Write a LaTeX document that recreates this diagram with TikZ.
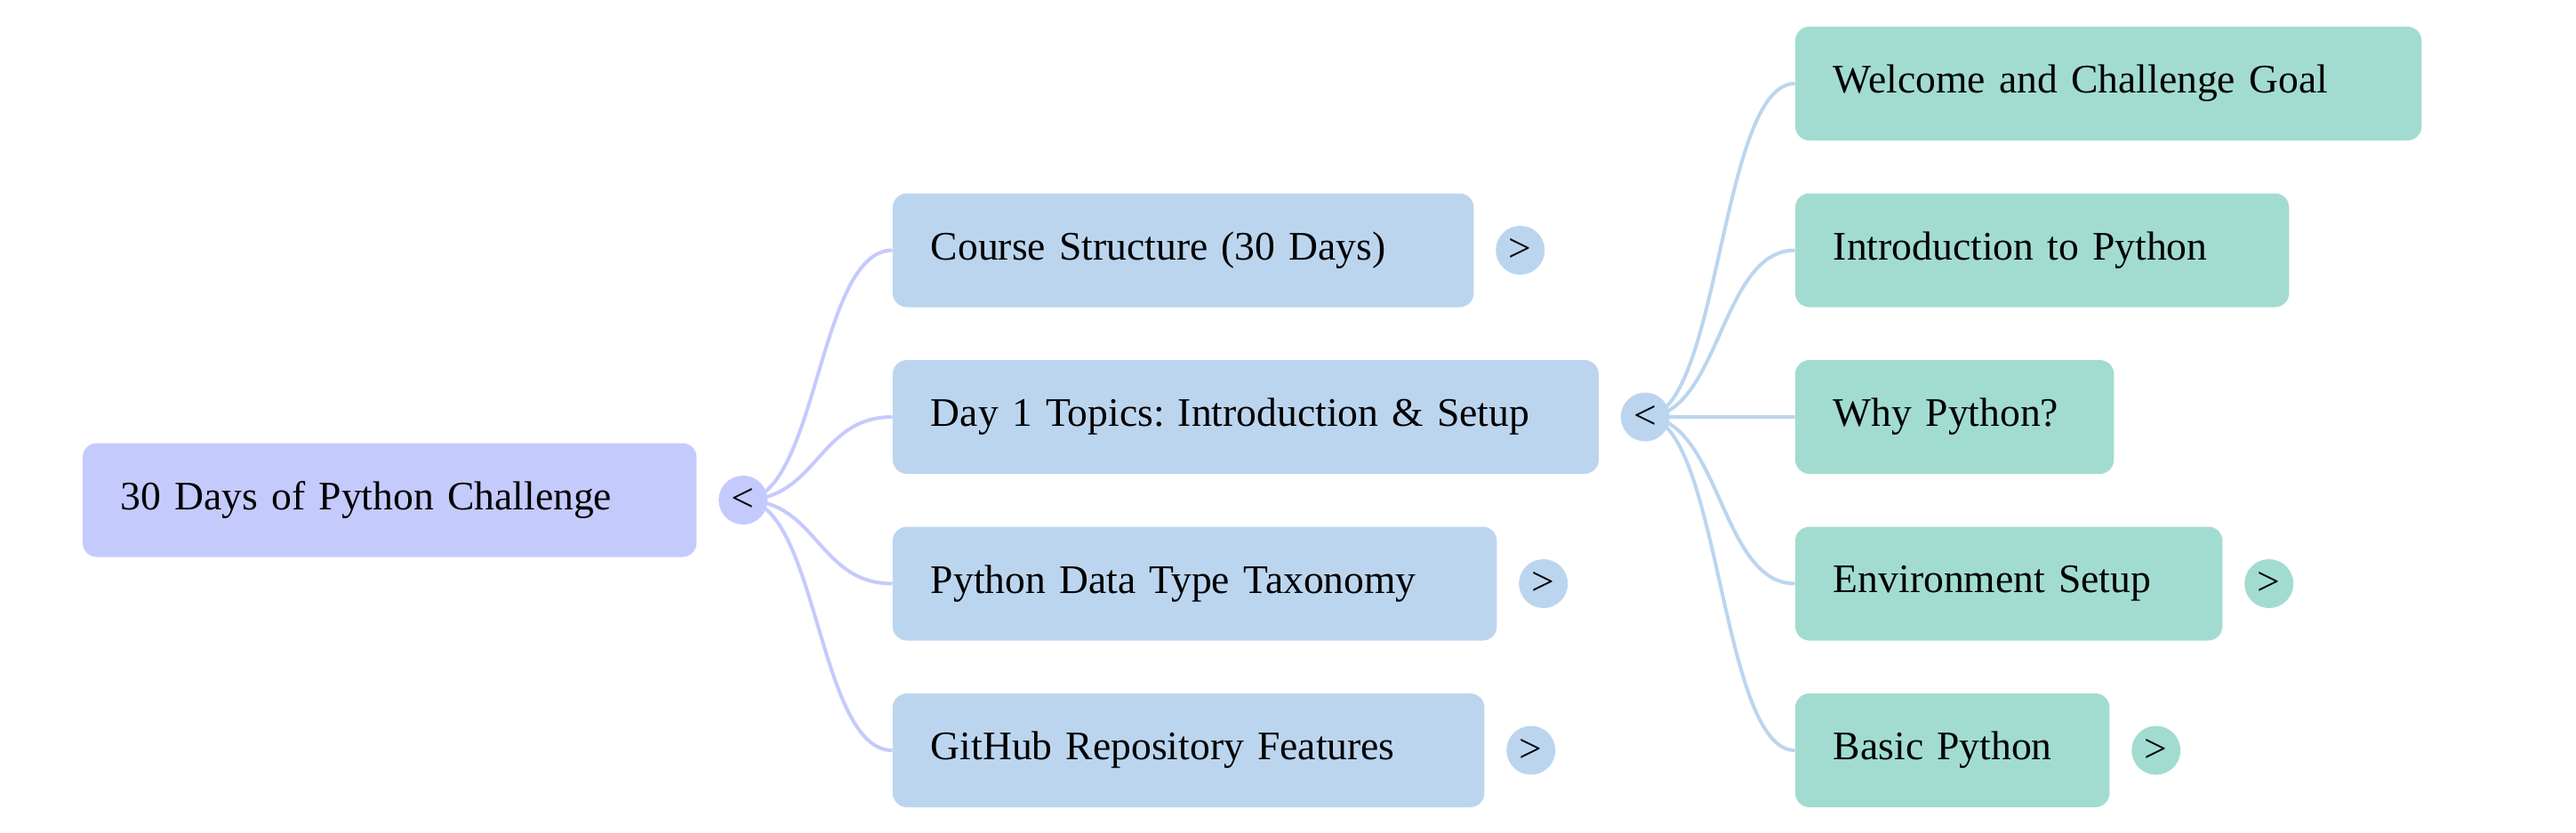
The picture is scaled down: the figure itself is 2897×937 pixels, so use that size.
\documentclass[tikz,border=0pt]{standalone}
\usepackage{fontspec}
\setmainfont{Liberation Serif}
\usepackage{xcolor}
\usetikzlibrary{positioning,calc,backgrounds}
\definecolor{rootcol}{RGB}{197,202,253}
\definecolor{midcol}{RGB}{188,213,239}
\definecolor{leafcol}{RGB}{162,220,209}
\frenchspacing

\begin{document}
\begin{tikzpicture}[x=0.5pt,y=-0.5pt,
    font=\fontsize{22.8pt}{28pt}\selectfont,
    topic/.style={rectangle,rounded corners=8pt,anchor=west,minimum height=64pt,
      inner xsep=21.5pt,align=left,text width=#1},
    toggle/.style={circle,inner sep=0pt,minimum size=27.5pt,right=12pt of #1},
    link/.style={line width=2pt,
      to path={let \p1=(\tikztostart),\p2=(\tikztotarget) in
        .. controls ({(\x1+\x2)/2},\y1) and ({(\x1+\x2)/2},\y2) .. (\tikztotarget)}}]
    \useasboundingbox (0,0) rectangle (2897,937);

    \node[topic=302.25pt,fill=rootcol] (r) at (92.5,562.5) {30 Days of Python Challenge};
    \node[toggle=r,fill=rootcol] (rt) {<};

    \node[topic=283.75pt,fill=midcol] (a1) at (1003.5,281.5) {Course Structure (30 Days)};
    \node[topic=354pt,fill=midcol] (a2) at (1003.5,469) {Day 1 Topics: Introduction \& Setup};
    \node[topic=296.75pt,fill=midcol] (a3) at (1003.5,656.5) {Python Data Type Taxonomy};
    \node[topic=289.75pt,fill=midcol] (a4) at (1003.5,844) {GitHub Repository Features};
    \node[toggle=a1,fill=midcol] (a1t) {>};
    \node[toggle=a2,fill=midcol] (a2t) {<};
    \node[toggle=a3,fill=midcol] (a3t) {>};
    \node[toggle=a4,fill=midcol] (a4t) {>};

    \node[topic=309.25pt,fill=leafcol] (b1) at (2018.5,94) {Welcome and Challenge Goal};
    \node[topic=234.75pt,fill=leafcol] (b2) at (2018.5,281.5) {Introduction to Python};
    \node[topic=136.25pt,fill=leafcol] (b3) at (2018.5,469) {Why Python?};
    \node[topic=197.25pt,fill=leafcol] (b4) at (2018.5,656.5) {Environment Setup};
    \node[topic=133.75pt,fill=leafcol] (b5) at (2018.5,844) {Basic Python};
    \node[toggle=b4,fill=leafcol] (b4t) {>};
    \node[toggle=b5,fill=leafcol] (b5t) {>};

    \begin{scope}[on background layer]
      \draw[link,rootcol] (rt.center) to (a1.west) (rt.center) to (a2.west)
        (rt.center) to (a3.west) (rt.center) to (a4.west);
      \draw[link,midcol] (a2t.center) to (b1.west) (a2t.center) to (b2.west)
        (a2t.center) to (b3.west) (a2t.center) to (b4.west) (a2t.center) to (b5.west);
    \end{scope}
\end{tikzpicture}
\end{document}
